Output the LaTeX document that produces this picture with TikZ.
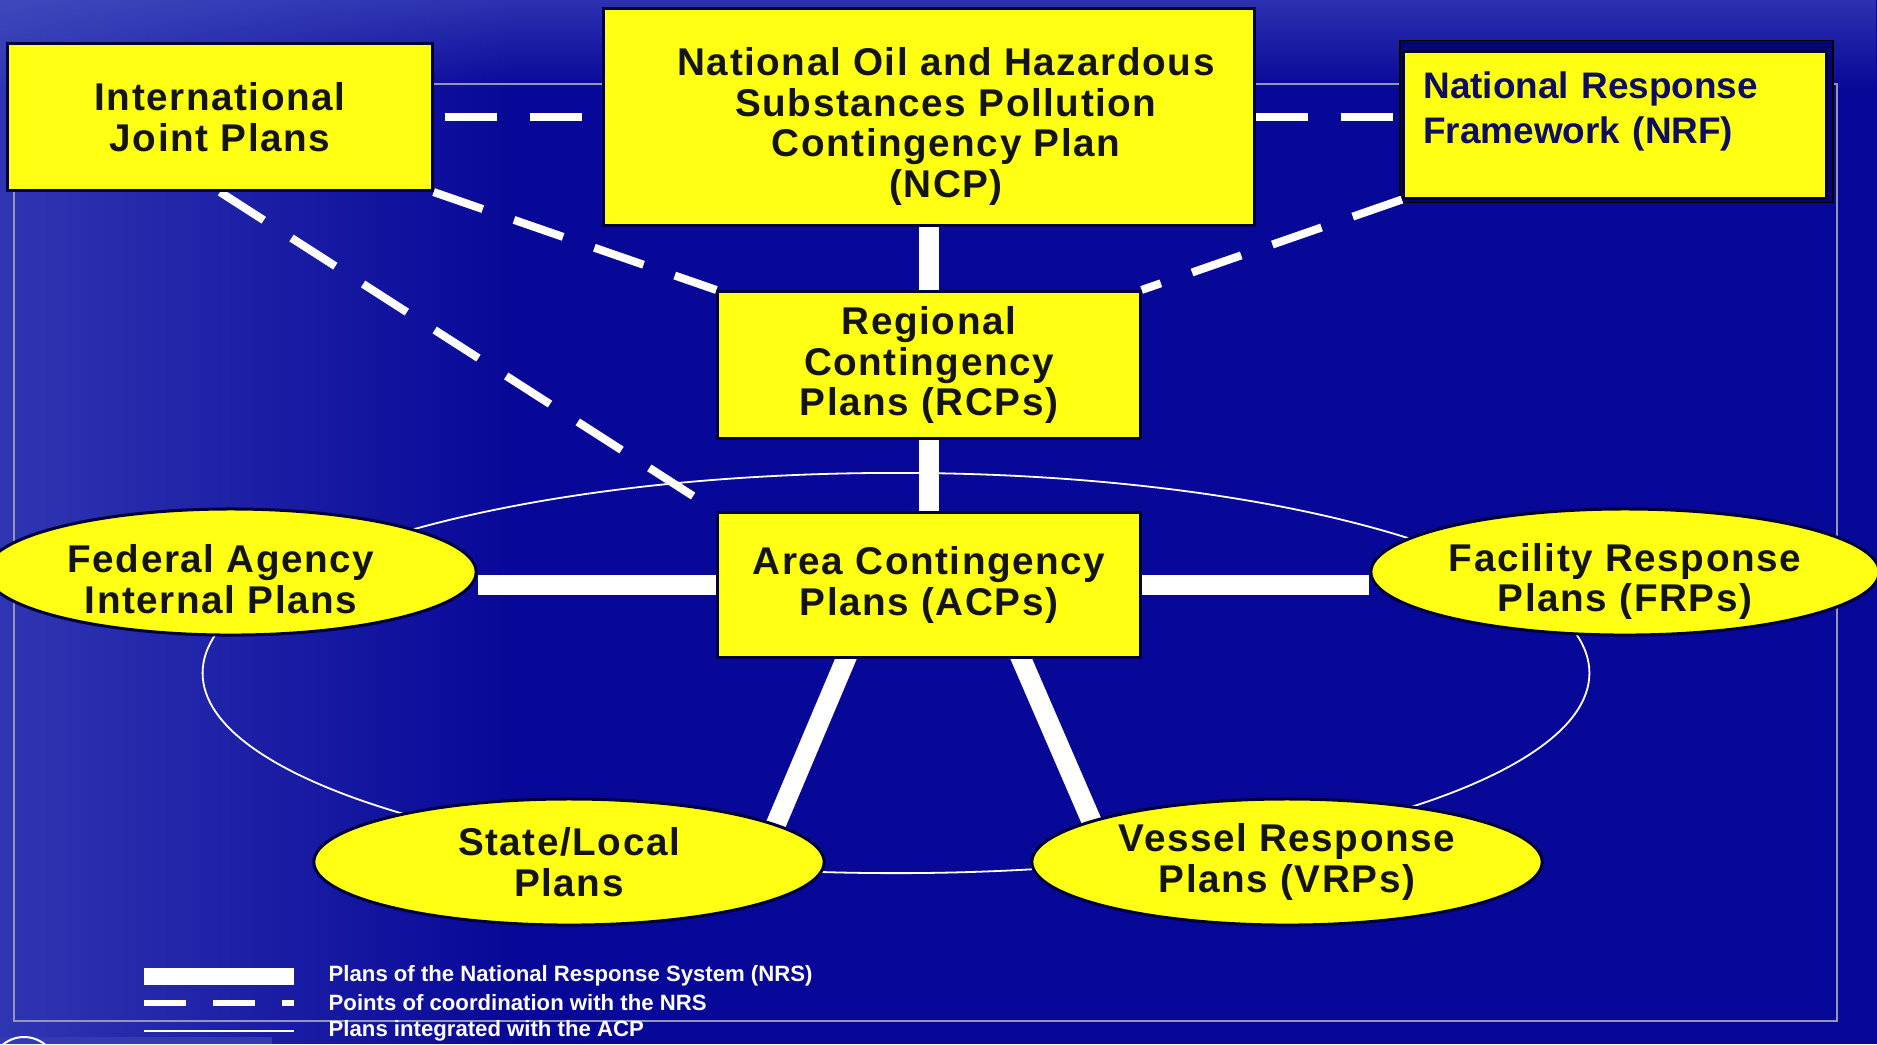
\documentclass[tikz,border=0pt]{standalone}
\usepackage{fontspec}
\setmainfont{Liberation Sans}
\newfontfamily\planfont[LetterSpace=4]{Liberation Sans Bold}
\newfontfamily\plainbold{Liberation Sans Bold}
\usetikzlibrary{shapes.geometric,calc,fadings}
\definecolor{bgblue}{RGB}{8,8,152}
\definecolor{bglight}{RGB}{80,92,200}
\definecolor{planyellow}{RGB}{255,255,20}
\definecolor{rimnavy}{RGB}{0,0,60}
\definecolor{nrfnavy}{RGB}{14,14,96}
\definecolor{inkblack}{RGB}{20,20,20}
\definecolor{framegray}{RGB}{150,150,180}
\newcommand\padtop[1]{\rule{0pt}{#1}}
\newcommand\nudge[1]{\hspace*{#1}}
\pgfdeclarelayer{bg}
\pgfdeclarelayer{wires}
\pgfsetlayers{bg,wires,main}
\tikzset{
  plan/.style={fill=planyellow, draw=rimnavy, line width=0.03cm, inner sep=0pt,
    align=center, text=inkblack, font=\planfont\fontsize{11}{11.6}\selectfont},
  planbox/.style={plan, rectangle},
  planoval/.style={plan, ellipse, minimum width=5.1cm, minimum height=1.26cm},
  nrs/.style={white, line width=0.2cm},
  coordline/.style={white, line width=0.08cm, dash pattern=on 0.52cm off 0.33cm},
  integ/.style={white, line width=0.018cm},
  legtext/.style={white, anchor=west, inner sep=0pt,
    font=\plainbold\fontsize{6.3}{7}\selectfont}
}
\begin{document}
\begin{tikzpicture}[x=0.01cm,y=-0.01cm]
\useasboundingbox (0,0) rectangle (1877,1044);
\begin{pgfonlayer}{bg}
  \fill[bgblue] (0,0) rectangle (1877,1044);
  \fill[bglight, path fading=east, fill opacity=0.55] (0,0) rectangle (520,1044);
  \fill[bglight, path fading=south, fill opacity=0.5] (0,0) rectangle (1877,90);
  \draw[framegray, line width=0.015cm] (14,84) rectangle (1837,1021);
  \fill[bglight!60!bgblue] (0,1037) rectangle (272,1044);
  \draw[white, line width=0.02cm] (24,1070) circle (0.33cm);
\end{pgfonlayer}

% plans
\node[planbox, minimum width=4.24cm, minimum height=1.47cm] (IJP) at (220,117) {International\\Joint Plans};
\node[planbox, minimum width=6.5cm, minimum height=2.17cm] (NCP) at (929,117)
  {\nudge{0.34cm}\padtop{13.4pt}National Oil and Hazardous\\\nudge{0.34cm}Substances Pollution\\\nudge{0.34cm}Contingency Plan\\\nudge{0.34cm}(NCP)};
\node[planbox, minimum width=4.23cm, minimum height=1.46cm, align=left, text width=3.83cm,
  text=nrfnavy, font=\plainbold\fontsize{10.5}{12.6}\selectfont] (NRF) at (1615,125) {\padtop{10.4pt}National Response\\Framework (NRF)\\~};
\node[planbox, minimum width=4.22cm, minimum height=1.47cm] (RCP) at (929,365) {Regional\\Contingency\\Plans (RCPs)};
\node[planbox, minimum width=4.22cm, minimum height=1.45cm] (ACP) at (929,585) {Area Contingency\\Plans (ACPs)};
\node[planoval, minimum width=4.9cm, inner ysep=-3pt] (FED) at (231,572)
  {\nudge{-0.2cm}\padtop{12pt}Federal Agency\\\nudge{-0.2cm}Internal Plans};
\node[planoval, minimum width=5.08cm, inner ysep=-3pt] (FRP) at (1625,572) {\padtop{13.4pt}Facility Response\\Plans (FRPs)};
\node[planoval] (STL) at (569,862) {State/Local\\Plans};
\node[planoval] (VRP) at (1287,862) {Vessel Response\\Plans (VRPs)};

\begin{pgfonlayer}{wires}
  \draw[integ] (896,673) ellipse [x radius=6.93cm, y radius=2cm];
  \draw[black, line width=0.015cm, fill=rimnavy!40!bgblue] ([shift={(-2,-10)}]NRF.north west) rectangle ([shift={(5,3)}]NRF.south east);
  % national response system
  \draw[nrs] (NCP.south) -- (RCP.north);
  \draw[nrs] (RCP.south) -- (ACP.north);
  \draw[nrs] (ACP.west) -- (ACP.west -| FED.east);
  \draw[nrs] (ACP.east) -- (ACP.east -| FRP.west);
  \draw[nrs] ($(ACP.south)+(-79,-10)$) -- ($(STL.center)+(196,-12)$);
  \draw[nrs] ($(ACP.south)+(88,-10)$) -- ($(VRP.center)+(-183,-12)$);
  % coordination
  \draw[coordline, dash phase=0.74cm] (IJP.east) -- (NCP.west);
  \draw[coordline] (NCP.east) -- (NCP.east -| NRF.west);
  \draw[coordline] (IJP.south) -- (ACP.north west);
  \draw[coordline] (IJP.south east) -- (RCP.north west);
  \draw[coordline] (NRF.south west) -- (RCP.north east);
\end{pgfonlayer}

% legend
\node[legtext] (legNRS) at (328,976) {Plans of the National Response System (NRS)};
\node[legtext] (legCoord) at (328,1003) {Points of coordination with the NRS};
\node[legtext] (legACP) at (328,1031) {Plans integrated with the ACP};
\draw[white, line width=0.17cm] ($(legNRS.west)+(-184,0)$) -- ($(legNRS.west)+(-34,0)$);
\draw[white, line width=0.06cm, dash pattern=on 0.42cm off 0.27cm] ($(legCoord.west)+(-184,0)$) -- ($(legCoord.west)+(-34,0)$);
\draw[integ] ($(legACP.west)+(-184,0)$) -- ($(legACP.west)+(-34,0)$);
\end{tikzpicture}
\end{document}
